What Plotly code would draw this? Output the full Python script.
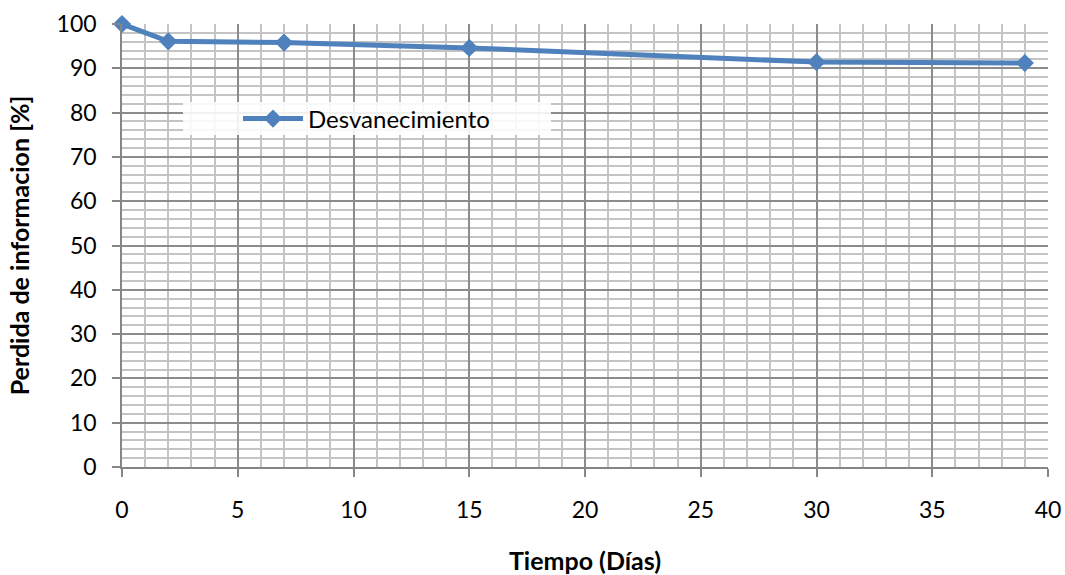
import plotly.graph_objects as go

dias = [0, 2, 7, 15, 30, 39]
perdida = [100, 96.1, 95.8, 94.6, 91.4, 91.2]
serie = "Desvanecimiento"
x_title = "Tiempo (Días)"
y_title = "Perdida de informacion [%]"

FONT = "Lato"
W, H = 1065, 575
L, R, T, B = 122, 17, 24, 108

fig = go.Figure()
fig.add_trace(go.Scatter(
    x=dias, y=perdida, name=serie, mode="lines+markers",
    line=dict(color="#4F81BD", width=5),
    marker=dict(symbol="diamond", size=14, color="#4F81BD"),
    cliponaxis=False,
))

pw = W - L - R
ph = H - T - B
def px_x(p):
    return (p - L) / pw
def px_y(p):
    return 1 - (p - T) / ph

fig.add_shape(type="rect", xref="paper", yref="paper",
              x0=px_x(183), x1=px_x(551), y0=px_y(135), y1=px_y(102),
              fillcolor="rgba(255,255,255,0.88)", line=dict(width=0), layer="above")

axis_common = dict(
    showline=True, linecolor="#868686", linewidth=1.5,
    ticks="outside", ticklen=8, tickcolor="#868686", tickwidth=1.5,
    showgrid=True, gridcolor="#8C8C8C", gridwidth=1.5,
    zeroline=False, automargin=False,
    tickfont=dict(family=FONT, size=23, color="#000000"),
    title_font=dict(family=FONT, size=25, color="#000000", weight="bold"),
)

fig.update_xaxes(range=[0, 40], dtick=5, tick0=0,
                 minor=dict(dtick=1, showgrid=True, gridcolor="#C4C4C4", gridwidth=1.5, ticks=""),
                 ticklabelstandoff=14,
                 title_text=x_title, title_standoff=30, **axis_common)
fig.update_yaxes(range=[0, 100], dtick=10, tick0=0,
                 minor=dict(dtick=2, showgrid=True, gridcolor="#C4C4C4", gridwidth=1.5, ticks=""),
                 ticklabelstandoff=11,
                 title_text=y_title, title_standoff=20, **axis_common)

fig.update_layout(
    width=W, height=H,
    margin=dict(l=L, r=R, t=T, b=B),
    plot_bgcolor="#FFFFFF", paper_bgcolor="#FFFFFF",
    showlegend=True,
    legend=dict(x=px_x(238), y=px_y(119), xanchor="left", yanchor="middle",
                bgcolor="rgba(0,0,0,0)", borderwidth=0,
                font=dict(family=FONT, size=24, color="#000000"),
                itemwidth=60),
)

fig.write_html("out.html")
